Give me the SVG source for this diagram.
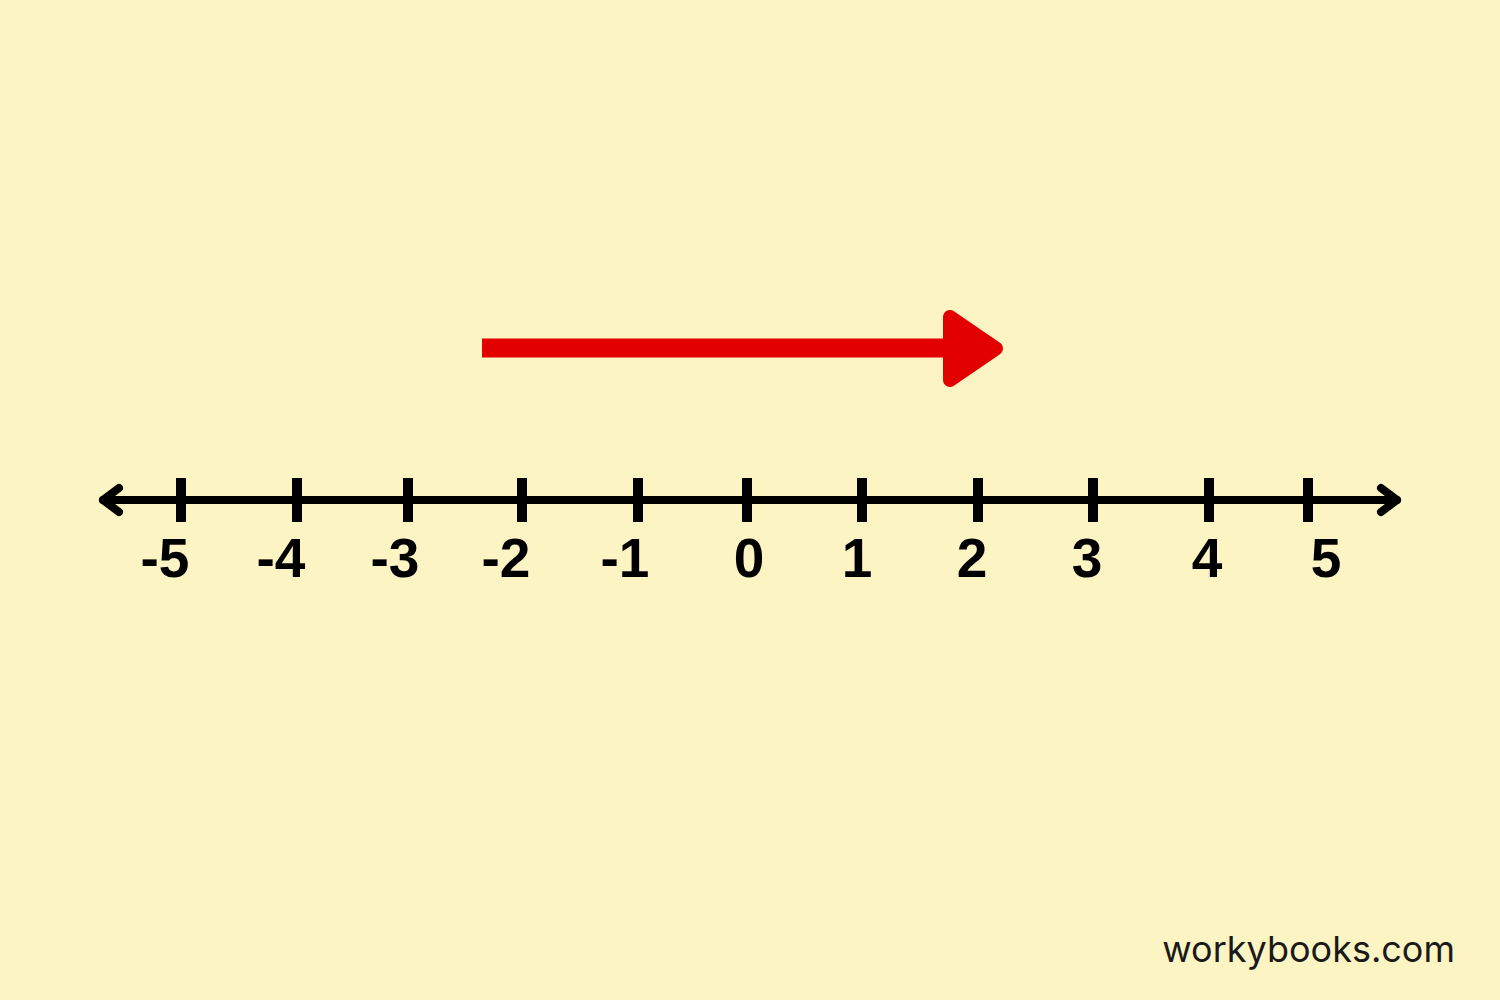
<svg xmlns="http://www.w3.org/2000/svg" width="1500" height="1000" viewBox="0 0 1500 1000">
  <style>
    .axis { stroke: #000; stroke-width: 8; fill: none; stroke-linecap: round; stroke-linejoin: round; }
    .tick { stroke: #000; stroke-width: 10; }
    .lbl { font-family: "Liberation Sans", Arial, sans-serif; font-weight: bold; font-size: 55px; fill: #000; text-anchor: middle; }
    .brand { font-family: Inter, "Liberation Sans", sans-serif; font-size: 36px; fill: #1a1a1a; }
  </style>
  <rect x="0" y="0" width="1500" height="1000" fill="#FDF4C3"/>
  <g id="red-arrow">
    <line x1="482" y1="348" x2="955" y2="348" stroke="#E30000" stroke-width="19"/>
    <polygon points="950,317 950,380 996,348.5" fill="#E30000" stroke="#E30000" stroke-width="14" stroke-linejoin="round"/>
  </g>
  <g id="number-line">
    <line class="axis" x1="103" y1="500" x2="1397" y2="500"/>
    <polyline class="axis" points="119,488 103,500 119,512"/>
    <polyline class="axis" points="1381,488 1397,500 1381,512"/>
  </g>
  <g id="ticks">
    <line class="tick" x1="181" y1="478" x2="181" y2="522"/>
    <line class="tick" x1="297" y1="478" x2="297" y2="522"/>
    <line class="tick" x1="408" y1="478" x2="408" y2="522"/>
    <line class="tick" x1="522" y1="478" x2="522" y2="522"/>
    <line class="tick" x1="638" y1="478" x2="638" y2="522"/>
    <line class="tick" x1="747" y1="478" x2="747" y2="522"/>
    <line class="tick" x1="862" y1="478" x2="862" y2="522"/>
    <line class="tick" x1="978" y1="478" x2="978" y2="522"/>
    <line class="tick" x1="1093" y1="478" x2="1093" y2="522"/>
    <line class="tick" x1="1209" y1="478" x2="1209" y2="522"/>
    <line class="tick" x1="1308" y1="478" x2="1308" y2="522"/>
  </g>
  <g id="labels">
    <text class="lbl" x="165" y="577">-5</text>
    <text class="lbl" x="281" y="577">-4</text>
    <text class="lbl" x="395" y="577">-3</text>
    <text class="lbl" x="506" y="577">-2</text>
    <text class="lbl" x="625" y="577">-1</text>
    <text class="lbl" x="749" y="577">0</text>
    <text class="lbl" x="857" y="577">1</text>
    <text class="lbl" x="972" y="577">2</text>
    <text class="lbl" x="1087" y="577">3</text>
    <text class="lbl" x="1207" y="577">4</text>
    <text class="lbl" x="1326" y="577">5</text>
  </g>
  <text class="brand" x="1455" y="962" text-anchor="end">workybooks.com</text>
</svg>
